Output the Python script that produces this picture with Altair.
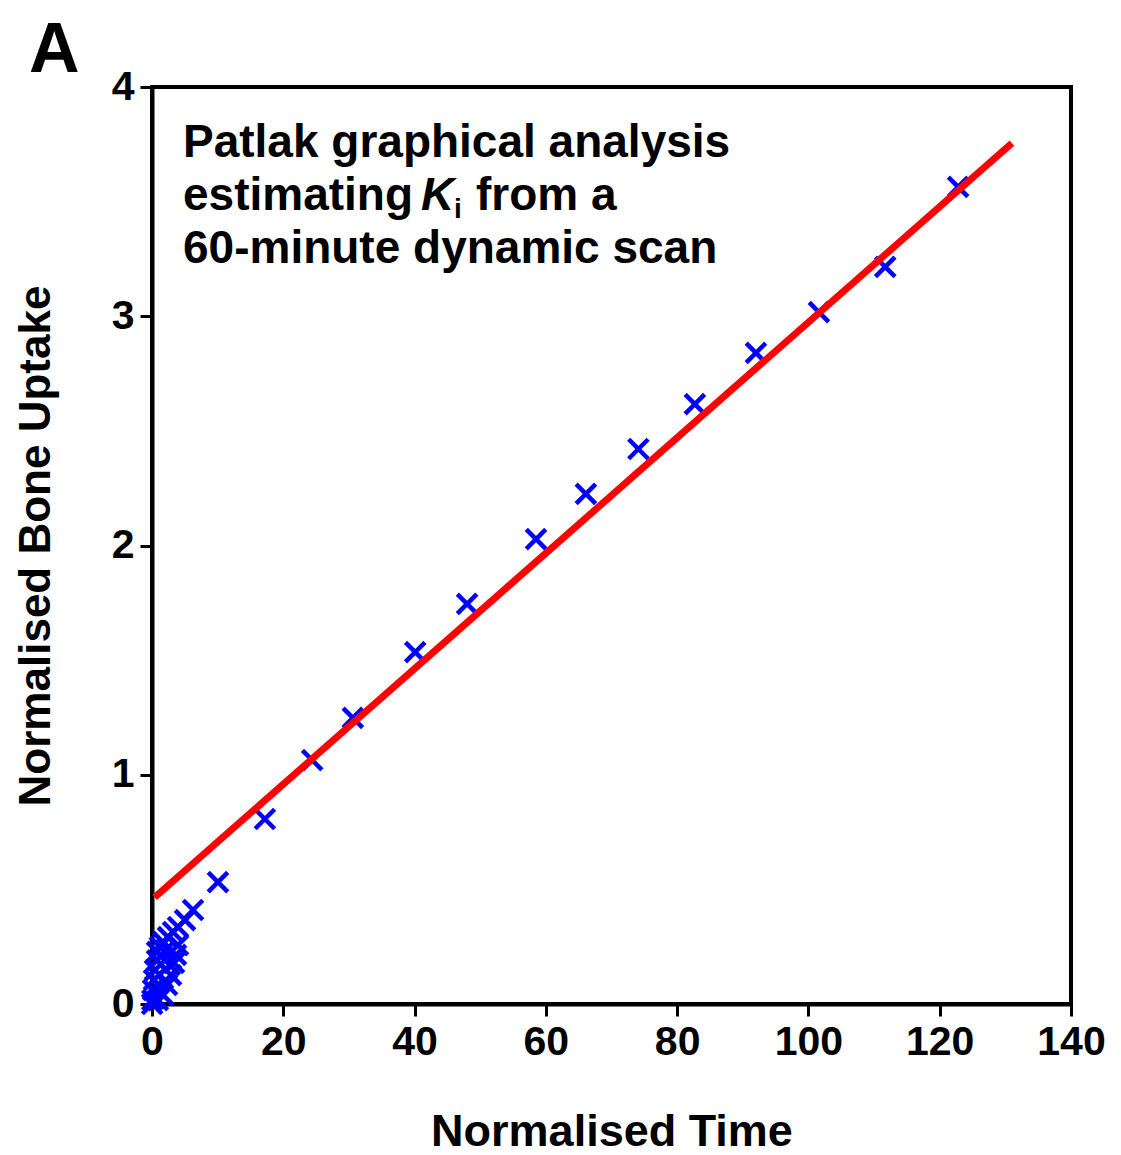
import altair as alt
import pandas as pd

# Patlak data (normalised time, normalised bone uptake)
time = [0.02, 0.05, 0.15, 0.3, 0.45, 0.76, 0.9, 0.76, 1.2, 1.68, 1.68, 2.1, 2.3, 2.44,
        2.7, 2.9, 3.2, 3.35, 3.66, 3.96, 3.96, 5.03, 6.25,
        10.05, 17.2, 24.4, 30.6, 40.1, 48.0, 58.5, 66.1, 74.1, 82.7, 92.0, 101.6, 111.7, 122.8]
uptake = [0.0, 0.017, 0.061, 0.105, 0.148, 0.19, 0.017, 0.227, 0.249, 0.04, 0.27, 0.235, 0.083, 0.292,
          0.17, 0.126, 0.314, 0.179, 0.214, 0.257, 0.336, 0.366, 0.41,
          0.532, 0.807, 1.064, 1.248, 1.535, 1.745, 2.028, 2.225, 2.421, 2.617, 2.84, 3.018, 3.215, 3.564]

# fitted regression line end points
fit_time = [0.4, 131.0]
fit_uptake = [0.465, 3.755]

x_ticks = [0, 20, 40, 60, 80, 100, 120, 140]
y_ticks = [0, 1, 2, 3, 4]

panel_label = "A"
note_line1 = "Patlak graphical analysis"
note_line2a = "estimating"
note_k = "K"
note_sub = "i"
note_line2b = "from a"
note_line3 = "60-minute dynamic scan"

FONT = "Liberation Sans"

pts = pd.DataFrame({"t": time, "u": uptake})
fit = pd.DataFrame({"t": fit_time, "u": fit_uptake})

xs = alt.Scale(domain=[0, 140], nice=False)
ys = alt.Scale(domain=[0, 4], nice=False)

xax = alt.Axis(values=x_ticks, format="d", title="Normalised Time", titleY=141,
               titleBaseline="alphabetic", labelPadding=6, labelFlush=False)
yax = alt.Axis(values=y_ticks, format="d", title="Normalised Bone Uptake", titleX=-103,
               titleFontSize=44, titleBaseline="alphabetic", labelPadding=6, labelFlush=False)

points = alt.Chart(pts).mark_point(
    shape="M-1,-1L1,1M-1,1L1,-1", filled=False, stroke="#0000ff", strokeWidth=4.5,
    size=380, opacity=1, clip=False
).encode(
    x=alt.X("t:Q", scale=xs, axis=xax),
    y=alt.Y("u:Q", scale=ys, axis=yax),
)

line = alt.Chart(fit).mark_line(color="#ff0000", strokeWidth=7).encode(
    x=alt.X("t:Q", scale=xs),
    y=alt.Y("u:Q", scale=ys),
)


def txt(s, x, y, size=45, style="normal", weight="bold"):
    return alt.Chart(pd.DataFrame({"s": [s]})).mark_text(
        font=FONT, fontSize=size, fontWeight=weight, fontStyle=style,
        align="left", baseline="alphabetic", color="black"
    ).encode(text="s:N", x=alt.value(x), y=alt.value(y))


texts = [
    txt(panel_label, -123, -15, size=70),
    txt(note_line1, 31, 70, size=46),
    txt(note_line2a, 31, 123, size=46),
    txt(note_k, 269, 123, size=46, style="italic"),
    txt(note_sub, 302, 131, size=28),
    txt(note_line2b, 324, 123, size=46),
    txt(note_line3, 31, 176, size=46),
]

chart = alt.layer(points, line, *texts).properties(
    width=919, height=917,
    padding={"left": 144, "top": 79, "right": 40, "bottom": 150},
    autosize=alt.AutoSizeParams(type="none"),
).configure_axis(
    grid=False,
    domainColor="black", domainWidth=4,
    tickColor="black", tickWidth=3, tickSize=12,
    labelFont=FONT, labelFontSize=41, labelFontWeight="bold", labelColor="black",
    titleFont=FONT, titleFontSize=45, titleFontWeight="bold", titleColor="black",
).configure_view(stroke="black", strokeWidth=4)

chart.save("out.html", embed_options={"renderer": "svg", "actions": False})
